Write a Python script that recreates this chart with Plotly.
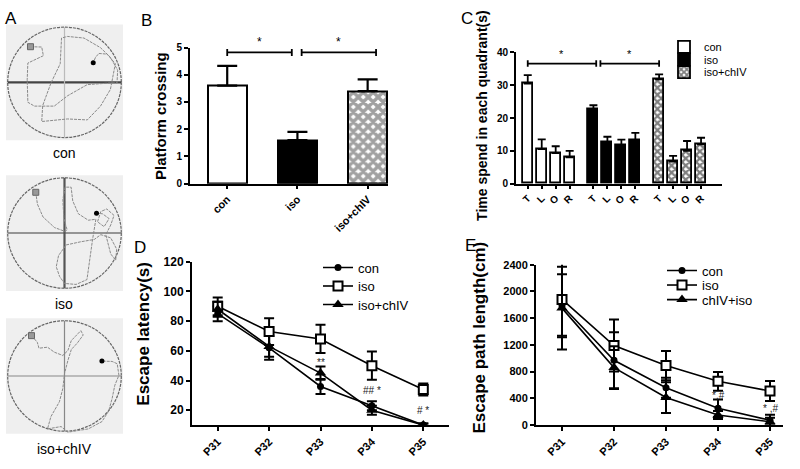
import plotly.graph_objects as go

FONT = "Liberation Sans, Arial, sans-serif"
W, H = 800, 469

# ---------------- data ----------------
# Panel A: swim paths (zoom pixel units) and image labels
A_labels = ["con", "iso", "iso+chIV"]
A_centers = [(191, 188, 172), (190, 185, 172), (190, 162, 167)]
A_path_con = [(88, 77), (122, 78), (127, 105), (80, 128), (78, 180), (80, 250), (100, 262), (160, 262),
              (200, 230), (260, 195), (330, 190), (350, 190), (352, 150), (330, 110), (300, 80), (250, 50),
              (200, 45), (182, 50), (178, 130), (150, 190), (125, 260), (122, 310), (200, 302), (260, 305),
              (300, 262), (330, 210), (345, 130), (320, 100), (295, 98), (285, 110), (278, 127)]
A_path_iso = [(103, 58), (108, 95), (125, 135), (160, 168), (192, 180), (198, 175), (188, 140), (185, 80),
              (192, 42), (210, 42), (215, 85), (232, 125), (262, 145), (285, 142), (275, 205), (270, 245),
              (265, 290), (258, 330), (225, 345), (190, 342), (175, 320), (165, 290), (172, 255), (195, 222),
              (240, 212), (280, 205), (300, 190), (330, 200), (348, 235), (345, 270), (330, 250), (315, 190),
              (330, 160), (340, 130), (318, 110), (300, 118), (290, 150), (310, 165), (325, 140), (305, 125),
              (287, 123)]
A_path_chiv = [(93, 40), (110, 60), (115, 78), (140, 75), (160, 90), (185, 100), (200, 85), (210, 55),
               (238, 25), (245, 38), (228, 62), (210, 82), (200, 115), (190, 155), (185, 200), (175, 240),
               (150, 285), (140, 322), (180, 315), (200, 332), (260, 322), (300, 300), (320, 268), (330, 230),
               (338, 190), (350, 160), (345, 125), (330, 118), (300, 117)]
A_paths = [A_path_con, A_path_iso, A_path_chiv]

# Panel B: platform crossing
B_groups = ["con", "iso", "iso+chIV"]
B_means = [3.6, 1.6, 3.4]
B_sem = [0.73, 0.3, 0.43]
B_sig_y = 4.82
B_sig_pairs = [(0.0, 0.92), (1.06, 2.12)]

# Panel C: time in each quadrant
C_quadrants = ["T", "L", "O", "R"]
C_groups = ["con", "iso", "iso+chIV"]
C_means = {"con": [30.5, 10.5, 9.3, 8.0],
           "iso": [22.5, 12.7, 11.7, 13.3],
           "iso+chIV": [31.8, 6.7, 10.0, 12.0]}
C_sem = {"con": [2.6, 3.0, 2.1, 2.0],
         "iso": [1.4, 1.6, 1.7, 2.2],
         "iso+chIV": [1.5, 1.8, 3.0, 2.0]}
C_sig_y = 36.6
C_sig_pairs = [(0.0, 4.9), (5.2, 9.4)]

# Panel D: escape latency
days = ["P31", "P32", "P33", "P34", "P35"]
D_con = [85, 62, 36, 23, 10]
D_con_err = [5, 8, 5, 3, 1]
D_iso = [90, 73, 68, 50, 34]
D_iso_err = [6, 9, 9.5, 9.5, 4]
D_chiv = [88, 63, 45, 20, 10]
D_chiv_err = [5, 7, 4.5, 3, 1]
D_marks = [("**", 2, 52), ("## *", 3, 33), ("# *", 4, 20)]

# Panel E: escape path length
E_con = [1785, 970, 558, 252, 73]
E_con_err = [470, 420, 150, 130, 80]
E_iso = [1880, 1190, 890, 655, 509]
E_iso_err = [545, 390, 220, 140, 150]
E_chiv = [1750, 860, 412, 150, 50]
E_chiv_err = [620, 320, 230, 60, 60]
E_marks = [("*,#", 3, 436), ("* ,#", 4, 247)]


# ---------------- helpers ----------------
def dx(a, b):
    return [a / W, b / W]


def dy(top, bottom):
    return [1 - bottom / H, 1 - top / H]


def px(x):
    return x / W


def py(y):
    return 1 - y / H


def paper_text(text, x, y, size, angle=0, color="black"):
    return dict(x=px(x), y=py(y), xref="paper", yref="paper", text=text, showarrow=False,
                xanchor="center", yanchor="middle", textangle=angle,
                font=dict(family=FONT, size=size, color=color))


fig = go.Figure()
annotations = []
shapes = []

# ---------------- Panel A ----------------
A_boxes = [(18, 137), (173, 292), (320, 439)]
A_label_y = [150, 305, 455]
hline = [("#444", 2.2), ("#777", 1.5), ("#888", 1.2)]
vline = [("#bbb", 1.2), ("#555", 2.2), ("#888", 1.2)]
for i in range(3):
    n = "" if i == 0 else str(i + 1)
    xa, ya = "x" + n, "y" + n
    top, bot = A_boxes[i]
    ry = 1.03 * (bot - top) / 117
    fig.layout["xaxis" + n] = dict(domain=dx(6, 123), range=[-1.03, 1.03], visible=False, anchor=ya)
    fig.layout["yaxis" + n] = dict(domain=dy(top, bot), range=[-ry, ry], visible=False, anchor=xa)
    shapes.append(dict(type="rect", xref=xa + " domain", yref=ya + " domain", x0=0, x1=1, y0=0, y1=1,
                       fillcolor="#efefef", line=dict(width=0), layer="below"))
    shapes.append(dict(type="circle", xref=xa, yref=ya, x0=-1, x1=1, y0=-1, y1=1,
                       line=dict(color="#666", width=1.2, dash="3px,1px"), layer="below"))
    shapes.append(dict(type="line", xref=xa, yref=ya, x0=-1, x1=1, y0=0, y1=0,
                       line=dict(color=hline[i][0], width=hline[i][1]), layer="below"))
    shapes.append(dict(type="line", xref=xa, yref=ya, x0=0, x1=0, y0=-1, y1=1,
                       line=dict(color=vline[i][0], width=vline[i][1]), layer="below"))
    cx, cy, r = A_centers[i]
    xs = [(p[0] - cx) / r for p in A_paths[i]]
    ys = [(cy - p[1]) / r for p in A_paths[i]]
    fig.add_trace(go.Scatter(x=xs, y=ys, xaxis=xa, yaxis=ya, mode="lines",
                             line=dict(color="#8a8a8a", width=1, dash="3px,1px"), showlegend=False,
                             hoverinfo="skip"))
    fig.add_trace(go.Scatter(x=[xs[0]], y=[ys[0]], xaxis=xa, yaxis=ya, mode="markers",
                             marker=dict(symbol="square", size=6, color="#999", line=dict(color="#666", width=1)),
                             showlegend=False))
    fig.add_trace(go.Scatter(x=[xs[-1]], y=[ys[-1]], xaxis=xa, yaxis=ya, mode="markers",
                             marker=dict(symbol="circle", size=5, color="black"), showlegend=False))
    annotations.append(paper_text(A_labels[i], 64, A_label_y[i], 14))

# ---------------- common axis style ----------------
def ax_style(**kw):
    d = dict(showline=True, linecolor="black", linewidth=2, ticks="outside", ticklen=4, tickwidth=1.5,
             tickcolor="black", showgrid=False, zeroline=False,
             tickfont=dict(family=FONT, size=11, color="black", weight="bold"))
    d.update(kw)
    return d


# ---------------- Panel B ----------------
fig.add_trace(go.Bar(x=[0, 1, 2], y=B_means, xaxis="x4", yaxis="y4", width=0.56,
                     marker=dict(color=["white", "black", "white"], line=dict(color="black", width=2),
                                 pattern=dict(shape=["", "", "x"], fgcolor="black", bgcolor="white",
                                              size=7, solidity=0.75)),
                     error_y=dict(type="data", array=B_sem, arrayminus=[0, 0, 0], color="black",
                                  thickness=2.2, width=10),
                     showlegend=False))
fig.layout.xaxis4 = ax_style(domain=dx(190, 388), range=[-0.53, 2.29], anchor="y4",
                             tickvals=[0, 1, 2], ticktext=B_groups, tickangle=-45, ticklen=3,
                             tickfont=dict(family=FONT, size=11, color="black", weight="bold"))
fig.layout.yaxis4 = ax_style(domain=dy(41.7, 181.7), range=[0, 5], dtick=1, anchor="x4",
                             tickfont=dict(family=FONT, size=10, color="black", weight="bold"))
for (a, b) in B_sig_pairs:
    shapes.append(dict(type="line", xref="x4", yref="y4", x0=a, x1=b, y0=B_sig_y, y1=B_sig_y,
                       line=dict(color="black", width=1.8)))
    for xx in (a, b):
        shapes.append(dict(type="line", xref="x4", yref="y4", x0=xx, x1=xx, y0=B_sig_y - 0.13,
                           y1=B_sig_y + 0.13, line=dict(color="black", width=1.8)))
    annotations.append(dict(x=(a + b) / 2, y=B_sig_y + 0.05, xref="x4", yref="y4", text="*",
                            showarrow=False, yanchor="bottom", font=dict(family=FONT, size=12, color="black")))
annotations.append(paper_text("<b>Platform crossing</b>", 161, 112, 15, angle=-90))

# ---------------- Panel C ----------------
C_gap = 4.7
C_styles = {"con": dict(color="white", pattern=dict(shape="")),
            "iso": dict(color="black", pattern=dict(shape="")),
            "iso+chIV": dict(color="white", pattern=dict(shape="x", fgcolor="black", bgcolor="white",
                                                           size=5, solidity=0.7))}
C_tickvals, C_ticktext = [], []
for gi, g in enumerate(C_groups):
    xs = [gi * C_gap + q for q in range(len(C_quadrants))]
    C_tickvals += xs
    C_ticktext += C_quadrants
    st = C_styles[g]
    fig.add_trace(go.Bar(x=xs, y=C_means[g], xaxis="x5", yaxis="y5", width=0.72, name=g,
                         marker=dict(color=st["color"], line=dict(color="black", width=1.8),
                                     pattern=st["pattern"]),
                         error_y=dict(type="data", array=C_sem[g], arrayminus=[0] * 4, color="black",
                                      thickness=1.8, width=4),
                         legend=["legend", "legend2", "legend3"][gi]))
fig.layout.xaxis5 = ax_style(domain=dx(516, 722), range=[-0.84, 13.9], anchor="y5",
                             tickvals=C_tickvals, ticktext=C_ticktext, tickangle=-45, ticklen=3,
                             tickfont=dict(family=FONT, size=10, color="black", weight="bold"))
fig.layout.yaxis5 = ax_style(domain=dy(46.7, 181.7), range=[0, 40], dtick=10, anchor="x5",
                             tickfont=dict(family=FONT, size=10, color="black", weight="bold"))
for (a, b) in C_sig_pairs:
    shapes.append(dict(type="line", xref="x5", yref="y5", x0=a, x1=b, y0=C_sig_y, y1=C_sig_y,
                       line=dict(color="black", width=1.8)))
    for xx in (a, b):
        shapes.append(dict(type="line", xref="x5", yref="y5", x0=xx, x1=xx, y0=C_sig_y - 1.0,
                           y1=C_sig_y + 1.0, line=dict(color="black", width=1.8)))
    annotations.append(dict(x=(a + b) / 2, y=C_sig_y + 0.4, xref="x5", yref="y5", text="*",
                            showarrow=False, yanchor="bottom", font=dict(family=FONT, size=11, color="black")))
annotations.append(paper_text("<b>Time spend in each quadrant(s)</b>", 482, 112, 14, angle=-90))

# ---------------- Panel D & E ----------------
line_series = [
    ("con", dict(symbol="circle", size=7, color="black")),
    ("iso", dict(symbol="square", size=9, color="white", line=dict(color="black", width=2))),
    ("tri", dict(symbol="triangle-up", size=10, color="black")),
]
D_vals = [(D_con, D_con_err, "con"), (D_iso, D_iso_err, "iso"), (D_chiv, D_chiv_err, "iso+chIV")]
E_vals = [(E_con, E_con_err, "con"), (E_iso, E_iso_err, "iso"), (E_chiv, E_chiv_err, "chIV+iso")]
D_leg = ["legend4", "legend5", "legend6"]
E_leg = ["legend7", "legend8", "legend9"]
for i, (vals, errs, nm) in enumerate(D_vals):
    fig.add_trace(go.Scatter(x=days, y=vals, xaxis="x6", yaxis="y6", mode="lines+markers", name=nm,
                             line=dict(color="black", width=1.6), marker=line_series[i][1],
                             error_y=dict(type="data", array=errs, color="black", thickness=2, width=5),
                             legend=D_leg[i]))
for i, (vals, errs, nm) in enumerate(E_vals):
    fig.add_trace(go.Scatter(x=days, y=vals, xaxis="x7", yaxis="y7", mode="lines+markers", name=nm,
                             line=dict(color="black", width=1.6), marker=line_series[i][1],
                             error_y=dict(type="data", array=errs, color="black", thickness=2, width=5),
                             legend=E_leg[i]))
fig.layout.xaxis6 = ax_style(domain=dx(192, 449), range=[-0.5, 4.5], anchor="y6", type="category",
                             tickangle=-45)
fig.layout.yaxis6 = ax_style(domain=dy(262, 430), range=[10, 120], tickvals=[20, 40, 60, 80, 100, 120],
                             anchor="x6", tickfont=dict(family=FONT, size=12, color="black", weight="bold"))
fig.layout.xaxis7 = ax_style(domain=dx(536, 783), range=[-0.5, 4.25], anchor="y7", type="category",
                             tickangle=-45)
fig.layout.yaxis7 = ax_style(domain=dy(265, 430), range=[0, 2400], dtick=400, anchor="x7",
                             tickfont=dict(family=FONT, size=11, color="black", weight="bold"))
for (t, xi, yv) in D_marks:
    annotations.append(dict(x=xi, y=yv, xref="x6", yref="y6", text=t, showarrow=False,
                            font=dict(family=FONT, size=10, color="#222")))
for (t, xi, yv) in E_marks:
    annotations.append(dict(x=xi, y=yv, xref="x7", yref="y7", text=t, showarrow=False,
                            font=dict(family=FONT, size=10, color="#222")))
annotations.append(paper_text("<b>Escape latency(s)</b>", 144, 336, 17, angle=-90))
annotations.append(paper_text("<b>Escape path length(cm)</b>", 480, 340, 17, angle=-90))

# ---------------- panel letters ----------------
for t, x, y in [("A", 11, 12), ("B", 146, 14), ("C", 467, 12), ("D", 140, 247), ("E", 470, 245)]:
    annotations.append(paper_text(t, x, y, 17))

# ---------------- legends (one item each, placed individually) ----------------
def leg(x, y, size):
    return dict(x=px(x), y=py(y), xanchor="left", yanchor="middle", bgcolor="rgba(0,0,0,0)",
                borderwidth=0, font=dict(family=FONT, size=size, color="black"), itemwidth=30,
                tracegroupgap=0)

fig.layout.legend = leg(664, 41, 11)
fig.layout.legend2 = leg(664, 54, 11)
fig.layout.legend3 = leg(664, 67, 11)
fig.layout.legend4 = leg(318, 268, 13)
fig.layout.legend5 = leg(318, 287, 13)
fig.layout.legend6 = leg(318, 306, 13)
fig.layout.legend7 = leg(662, 271, 13)
fig.layout.legend8 = leg(662, 286, 13)
fig.layout.legend9 = leg(662, 301, 13)

fig.update_layout(width=W, height=H, margin=dict(l=0, r=0, t=0, b=0), paper_bgcolor="white",
                  plot_bgcolor="rgba(0,0,0,0)", annotations=annotations, shapes=shapes,
                  font=dict(family=FONT, color="black"), bargap=0)

fig.write_html("out.html", config={"displayModeBar": False},
               post_script="document.body.style.margin='0px';")
